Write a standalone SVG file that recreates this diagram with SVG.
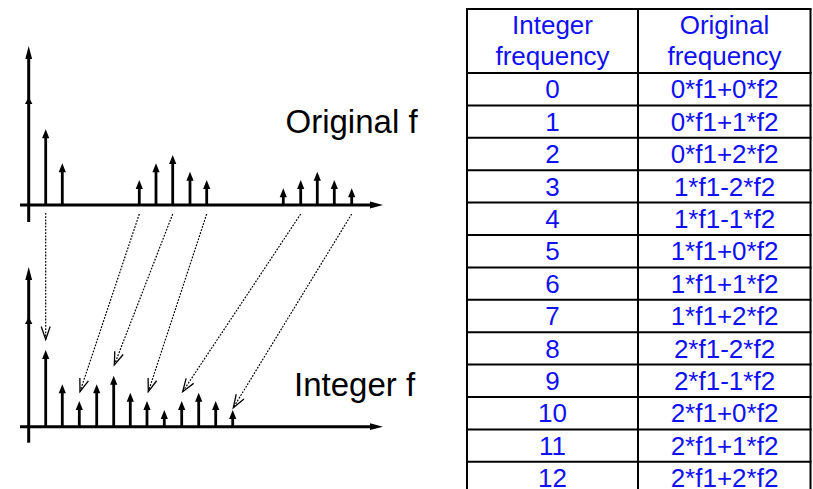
<svg xmlns="http://www.w3.org/2000/svg" width="813" height="489" viewBox="0 0 813 489">
  <style>
    .axis { stroke: #000; stroke-width: 3; fill: none; }
    .imp { stroke: #000; stroke-width: 2.8; marker-end: url(#impHead); }
    .map { stroke: #000; stroke-width: 1.2; stroke-dasharray: 1.8 1.4; fill: none; marker-end: url(#openHead); }
    .lbl { font-family: "Liberation Sans", Arial, sans-serif; font-size: 33px; fill: #000; }
    .grid { stroke: #000; stroke-width: 2; fill: none; }
    .cell { font-family: "Liberation Sans", Arial, sans-serif; font-size: 26px; fill: #1010f5; text-anchor: middle; }
    .head { font-family: "Liberation Sans", Arial, sans-serif; font-size: 26px; fill: #1010f5; text-anchor: middle; }
  </style>
  <defs>
    <marker id="axisHead" markerUnits="userSpaceOnUse" orient="auto" markerWidth="16" markerHeight="10" refX="3" refY="0" viewBox="0 -5 16 10" overflow="visible">
      <path d="M0,-3.4 L13,0 L0,3.4 z" fill="#000"/>
    </marker>
    <marker id="impHead" markerUnits="userSpaceOnUse" orient="auto" markerWidth="12" markerHeight="10" refX="2" refY="0" viewBox="0 -5 12 10" overflow="visible">
      <path d="M0,-3.6 L9,0 L0,3.6 z" fill="#000"/>
    </marker>
    <marker id="openHead" markerUnits="userSpaceOnUse" orient="auto" markerWidth="16" markerHeight="12" refX="0" refY="0" viewBox="-14 -6 16 12" overflow="visible">
      <path d="M-13,-4.5 L0,0 L-13,4.5" fill="none" stroke="#000" stroke-width="1.3"/>
    </marker>
  </defs>

  <!-- upper spectrum: original frequencies -->
  <g id="plot-original">
    <line class="axis" x1="28.7" y1="222" x2="28.7" y2="56" marker-end="url(#axisHead)"/>
    <line class="axis" x1="20" y1="205" x2="373" y2="205" marker-end="url(#axisHead)"/>
    <path d="M25,104 L28.7,97 L32.4,104 z" fill="#000"/>
    <line class="imp" x1="45.7" y1="205" x2="45.7" y2="136.3"/>
    <line class="imp" x1="62.3" y1="205" x2="62.3" y2="170.3"/>
    <line class="imp" x1="139.3" y1="205" x2="139.3" y2="187"/>
    <line class="imp" x1="156" y1="205" x2="156" y2="170.3"/>
    <line class="imp" x1="172.7" y1="205" x2="172.7" y2="162"/>
    <line class="imp" x1="190" y1="205" x2="190" y2="178.7"/>
    <line class="imp" x1="206.7" y1="205" x2="206.7" y2="187"/>
    <line class="imp" x1="283.3" y1="205" x2="283.3" y2="195.3"/>
    <line class="imp" x1="300.7" y1="205" x2="300.7" y2="187"/>
    <line class="imp" x1="317.3" y1="205" x2="317.3" y2="178.7"/>
    <line class="imp" x1="334.3" y1="205" x2="334.3" y2="187"/>
    <line class="imp" x1="351.7" y1="205" x2="351.7" y2="195.3"/>
    <text class="lbl" x="285.5" y="133">Original f</text>
  </g>

  <!-- lower spectrum: integer frequencies -->
  <g id="plot-integer">
    <line class="axis" x1="28.7" y1="442.7" x2="28.7" y2="277" marker-end="url(#axisHead)"/>
    <line class="axis" x1="20" y1="426.7" x2="373" y2="426.7" marker-end="url(#axisHead)"/>
    <path d="M25,324 L28.7,317 L32.4,324 z" fill="#000"/>
    <line class="imp" x1="45.7" y1="426.7" x2="45.7" y2="357"/>
    <line class="imp" x1="62.3" y1="426.7" x2="62.3" y2="391.3"/>
    <line class="imp" x1="79.3" y1="426.7" x2="79.3" y2="408"/>
    <line class="imp" x1="96.7" y1="426.7" x2="96.7" y2="391.3"/>
    <line class="imp" x1="113.7" y1="426.7" x2="113.7" y2="382.7"/>
    <line class="imp" x1="130.3" y1="426.7" x2="130.3" y2="399.7"/>
    <line class="imp" x1="147" y1="426.7" x2="147" y2="408"/>
    <line class="imp" x1="164.3" y1="426.7" x2="164.3" y2="417"/>
    <line class="imp" x1="181.7" y1="426.7" x2="181.7" y2="408"/>
    <line class="imp" x1="198.7" y1="426.7" x2="198.7" y2="399.7"/>
    <line class="imp" x1="215.7" y1="426.7" x2="215.7" y2="408"/>
    <line class="imp" x1="232.7" y1="426.7" x2="232.7" y2="417"/>
    <text class="lbl" x="294" y="396">Integer f</text>
  </g>

  <!-- mapping from original to integer frequencies -->
  <g id="connectors">
    <line class="map" x1="45.7" y1="213" x2="45.7" y2="339.5"/>
    <line class="map" x1="139.3" y1="214" x2="80" y2="391.7"/>
    <line class="map" x1="172.7" y1="214" x2="114.3" y2="365"/>
    <line class="map" x1="206.7" y1="214" x2="148.3" y2="391.7"/>
    <line class="map" x1="300.7" y1="214" x2="182.7" y2="391.7"/>
    <line class="map" x1="351.7" y1="214" x2="233.3" y2="407.7"/>
  </g>

  <!-- lookup table -->
  <g id="table">
    <g id="table-grid">
      <line class="grid" x1="467" y1="9" x2="467" y2="489"/>
      <line class="grid" x1="638" y1="9" x2="638" y2="489"/>
      <line class="grid" x1="810.5" y1="9" x2="810.5" y2="489"/>
      <line class="grid" x1="466" y1="9" x2="811.5" y2="9"/>
      <line class="grid" x1="466" y1="73" x2="811.5" y2="73"/>
      <line class="grid" x1="466" y1="105.4" x2="811.5" y2="105.4"/>
      <line class="grid" x1="466" y1="137.8" x2="811.5" y2="137.8"/>
      <line class="grid" x1="466" y1="170.2" x2="811.5" y2="170.2"/>
      <line class="grid" x1="466" y1="202.6" x2="811.5" y2="202.6"/>
      <line class="grid" x1="466" y1="235" x2="811.5" y2="235"/>
      <line class="grid" x1="466" y1="267.4" x2="811.5" y2="267.4"/>
      <line class="grid" x1="466" y1="299.8" x2="811.5" y2="299.8"/>
      <line class="grid" x1="466" y1="332.2" x2="811.5" y2="332.2"/>
      <line class="grid" x1="466" y1="364.6" x2="811.5" y2="364.6"/>
      <line class="grid" x1="466" y1="397" x2="811.5" y2="397"/>
      <line class="grid" x1="466" y1="429.4" x2="811.5" y2="429.4"/>
      <line class="grid" x1="466" y1="461.8" x2="811.5" y2="461.8"/>
    </g>
    <g id="table-header">
      <text class="head" x="552.5" y="34">Integer</text>
      <text class="head" x="552.5" y="65">frequency</text>
      <text class="head" x="724.5" y="34">Original</text>
      <text class="head" x="724.5" y="65">frequency</text>
    </g>
    <g id="table-rows">
      <text class="cell" x="552.5" y="98.4">0</text><text class="cell" x="724.5" y="98.4">0*f1+0*f2</text>
      <text class="cell" x="552.5" y="130.8">1</text><text class="cell" x="724.5" y="130.8">0*f1+1*f2</text>
      <text class="cell" x="552.5" y="163.2">2</text><text class="cell" x="724.5" y="163.2">0*f1+2*f2</text>
      <text class="cell" x="552.5" y="195.6">3</text><text class="cell" x="724.5" y="195.6">1*f1-2*f2</text>
      <text class="cell" x="552.5" y="228">4</text><text class="cell" x="724.5" y="228">1*f1-1*f2</text>
      <text class="cell" x="552.5" y="260.4">5</text><text class="cell" x="724.5" y="260.4">1*f1+0*f2</text>
      <text class="cell" x="552.5" y="292.8">6</text><text class="cell" x="724.5" y="292.8">1*f1+1*f2</text>
      <text class="cell" x="552.5" y="325.2">7</text><text class="cell" x="724.5" y="325.2">1*f1+2*f2</text>
      <text class="cell" x="552.5" y="357.6">8</text><text class="cell" x="724.5" y="357.6">2*f1-2*f2</text>
      <text class="cell" x="552.5" y="390">9</text><text class="cell" x="724.5" y="390">2*f1-1*f2</text>
      <text class="cell" x="552.5" y="422.4">10</text><text class="cell" x="724.5" y="422.4">2*f1+0*f2</text>
      <text class="cell" x="552.5" y="454.8">11</text><text class="cell" x="724.5" y="454.8">2*f1+1*f2</text>
      <text class="cell" x="552.5" y="486.5">12</text><text class="cell" x="724.5" y="486.5">2*f1+2*f2</text>
    </g>
  </g>
</svg>
